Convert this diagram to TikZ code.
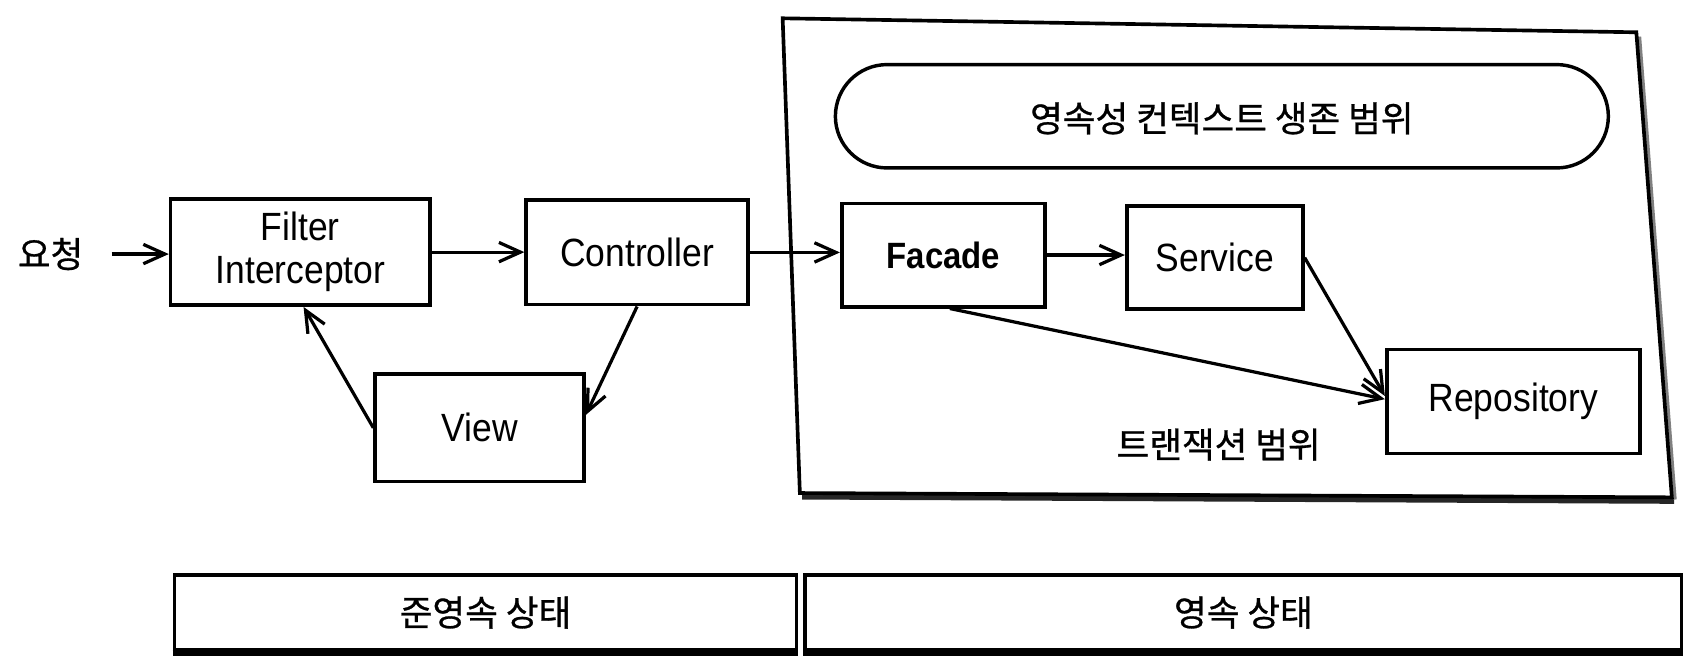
\documentclass[tikz,border=0pt]{standalone}
\usepackage{fontspec}
\setmainfont{Liberation Sans}[FakeStretch=0.9]
\newfontfamily\kr[FakeBold=0.8]{Noto Sans CJK KR}
\usetikzlibrary{arrows.meta,calc}
\tikzset{
  box/.style={draw, line width=1.7pt, rectangle, inner sep=0pt, font=\fontsize{18.3}{20}\selectfont, align=center},
  arr/.style={line width=1.5pt, -{Straight Barb[length=10pt,width=9pt,line width=1.5pt]}},
  krtext/.style={font=\kr\fontsize{16.5}{19}\selectfont, inner sep=0pt}
}
\begin{document}
\begin{tikzpicture}[x=0.5pt,y=-0.5pt]
\useasboundingbox (0,0) rectangle (1568,615);
% big transaction frame
\coordinate (tl) at (727,17);
\coordinate (tr) at (1520,30);
\coordinate (br) at (1553,462);
\coordinate (bl) at (743,458);
\draw[line width=3pt, black!85] ($(bl)+(2,3)$) -- ($(br)+(2,3)$);
\draw[line width=1.5pt, black!50] ($(tr)+(3,4)$) -- ($(br)+(3,2)$);
\draw[line width=1.7pt] (tl) -- (tr) -- (br) -- (bl) -- cycle;
% stadium
\node[draw, line width=1.6pt, rectangle, rounded corners=24pt, minimum width=359pt, minimum height=48pt, inner sep=0pt] (ctx) at (1135,108) {};
\node[krtext] (ctxlabel) at (1135,110) {영속성 컨텍스트 생존 범위};
% nodes
\node[krtext] (req) at (47,236) {요청};
\node[box, minimum width=120.5pt, minimum height=49.2pt] (filter) at (279,234.2) {Filter\\Interceptor};
\node[box, minimum width=103pt, minimum height=48.5pt] (ctrl) at (591.8,234.5) {Controller};
\node[box, minimum width=97pt, minimum height=50pt] (view) at (445.5,397.4) {View};
\node[box, minimum width=94.4pt, minimum height=48pt, font=\bfseries\fontsize{17}{19}\selectfont] (facade) at (876.3,236.9) {Facade};
\node[box, minimum width=81.8pt, minimum height=48pt] (service) at (1128.4,239.3) {Service};
\node[box, minimum width=117.7pt, minimum height=48.3pt] (repo) at (1405.8,372.8) {Repository};
\node[krtext] (txlabel) at (1132,413) {트랜잭션 범위};
% arrows
\draw[arr, shorten <=13pt] (req.east) -- (req.east -| filter.west);
\draw[arr] (filter.east) -- (filter.east -| ctrl.west);
\draw[arr] (ctrl.east) -- (ctrl.east -| facade.west);
\draw[arr] (facade.east) -- (facade.east -| service.west);
\draw[arr] (service.east) -- ($(repo.west)+(0,-5)$);
\draw[arr] ($(facade.south)+(6,0)$) -- ($(repo.west)+(0,-2)$);
\draw[arr] (ctrl.south) -- ($(view.east)+(0,-12)$);
\draw[arr] (view.west) -- ($(filter.south)+(3,0)$);
% bottom state boxes
\node[box, minimum width=289pt, minimum height=35pt] (detached) at (451,569) {};
\node[box, minimum width=407pt, minimum height=35pt] (managed) at (1155,569) {};
\draw[line width=2.6pt] ($(detached.south west)+(0,1)$) -- ($(detached.south east)+(0,1)$);
\draw[line width=2.6pt] ($(managed.south west)+(0,1)$) -- ($(managed.south east)+(0,1)$);
\node[krtext] (detachedlabel) at (detached) {준영속 상태};
\node[krtext] (managedlabel) at (managed) {영속 상태};
\end{tikzpicture}
\end{document}
